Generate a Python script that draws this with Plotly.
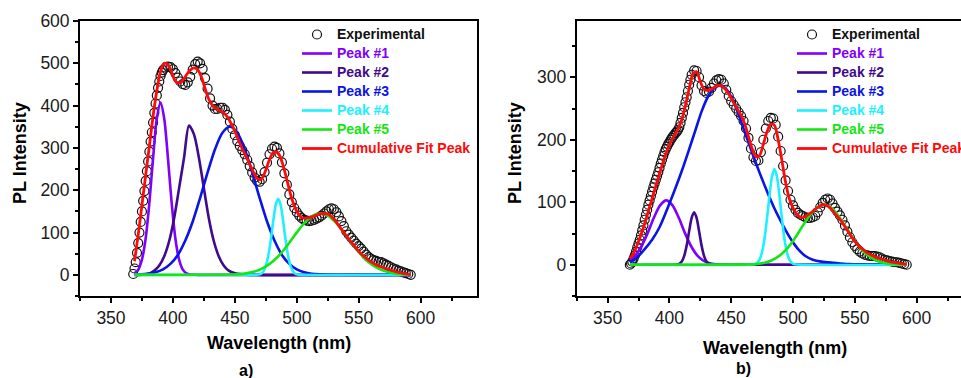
import plotly.graph_objects as go

# ---------------- panel a ----------------
# measured spectrum: 1 nm steps on the steep rising edge, 2 nm steps afterwards
exp_wl_a = list(range(368, 392)) + list(range(392, 593, 2))
exp_a = [2, 15, 30, 52, 75, 100, 125, 150, 175, 198,
         222, 245, 268, 291, 315, 337, 360, 383, 405, 424,
         442, 457, 470, 478,
         484, 490, 492, 491, 486, 477, 466, 457,
         451, 449, 455, 468, 485, 498, 504, 500, 487, 465,
         440, 417, 400, 392, 392, 395, 395, 390, 378, 362,
         345, 330, 316, 305, 295, 285, 272, 257, 242, 230,
         222, 220, 226, 243, 265, 285, 298, 303, 300, 287,
         266, 240, 213, 190, 172, 158, 148, 140, 134, 130,
         128, 127, 128, 130, 133, 136, 140, 145, 150, 155,
         157, 155, 148, 138, 127, 115, 103, 95, 88, 81,
         74, 68, 62, 55, 48, 42, 38, 35, 33, 31,
         30, 27, 24, 21, 18, 15, 13, 10, 8, 6,
         4, 2, 0]

fit_wl_a = list(range(369, 589, 3)) + [592]
fit_a = [32, 95, 165, 235, 305, 375, 435, 480, 500, 496,
         478, 458, 453, 460, 473, 484, 489, 485, 468, 440,
         415, 400, 393, 388, 383, 373, 358, 340, 318, 298,
         280, 262, 243, 228, 225, 240, 265, 285, 291, 283,
         258, 225, 190, 163, 145, 135, 134, 135, 138, 141,
         144, 145, 144, 138, 128, 116, 104, 92, 81, 70,
         59, 50, 42, 35, 29, 24, 20, 17, 14, 11,
         8, 6, 4, 2, 0]

p1_wl_a = [369, 372, 375, 378, 381, 384, 387, 390, 393, 396, 399, 402, 405, 408, 411, 414, 420, 592]
p1_a = [3.5, 12.3, 36, 86, 170, 276, 369, 407, 369, 276, 170, 86, 36, 12.3, 3.5, 0.8, 0, 0]

p2_wl_a = [369, 375, 381, 385, 389, 393, 397, 401, 405, 409, 413, 417, 421, 425, 429, 433, 437, 441, 445, 451, 459, 592]
p2_a = [0, 0.5, 3, 10, 22, 44, 80, 134, 205, 277, 353, 332, 277, 205, 134, 80, 44, 22, 10, 3, 0.5, 0]

p3_wl_a = [369, 374, 380, 386, 392, 398, 404, 410, 416, 422, 428, 434, 440, 446,
           452, 458, 464, 470, 476, 482, 488, 494, 500, 506, 512, 518, 530, 592]
p3_a = [0.5, 1, 2.5, 6, 13, 26, 47, 81, 126, 182, 242, 297, 336, 350,
        336, 297, 242, 182, 126, 81, 47, 26, 13, 6, 2.5, 1, 0.2, 0]

p4_wl_a = [369, 465, 469, 471, 473, 475, 477, 479, 481, 483, 485, 487, 489, 491, 493, 495, 497, 499, 501, 505, 592]
p4_a = [0, 0, 0.7, 2.5, 8, 20.5, 45, 82, 127, 165, 180, 165, 127, 82, 45, 20.5, 8, 2.5, 0.7, 0, 0]

p5_wl_a = [369, 441, 447, 453, 459, 465, 471, 477, 483, 489, 495, 501, 507, 513, 519,
           525, 531, 537, 543, 549, 555, 561, 567, 573, 579, 585, 592]
p5_a = [0, 0.25, 0.7, 1.6, 3.5, 7.1, 13.4, 23.5, 38, 57, 80, 104, 125, 140, 145,
        140, 125, 104, 80, 57, 38, 23.5, 13.4, 7.1, 3.5, 1.6, 0.6]

# ---------------- panel b ----------------
exp_wl_b = list(range(368, 418)) + list(range(418, 593, 2))
exp_b = [0, 2, 5, 10, 15, 21, 28, 34, 40, 47,
         55, 63, 72, 80, 88, 96, 103, 110, 117, 124,
         130, 136, 142, 148, 155, 162, 168, 174, 180, 185,
         189, 193, 196, 200, 203, 206, 208, 211, 213, 216,
         220, 227, 235, 243, 252, 260, 268, 278, 288, 296,
         304, 311, 310, 300, 287,
         278, 275, 277, 283, 290, 295, 297, 296, 290, 280,
         270, 262, 256, 250, 244, 238, 230, 218, 203, 186,
         172, 166, 167, 180, 200, 218, 230, 235, 234, 224,
         205, 182, 158, 135, 118, 104, 95, 88, 83, 80,
         78, 76, 75, 75, 76, 78, 84, 92, 99, 104,
         106, 104, 98, 91, 85, 79, 72, 63, 53, 44,
         36, 30, 25, 21, 18, 16, 15, 14, 14, 14,
         13, 12, 10, 8, 7, 6, 5, 4, 4, 3,
         2, 1, 0]

fit_wl_b = list(range(368, 591, 3)) + [592]
fit_b = [10, 18, 32, 48, 66, 86, 106, 126, 146, 165,
         182, 196, 207, 217, 232, 255, 282, 305, 309, 293,
         281, 279, 281, 285, 287, 285, 279, 270, 259, 249,
         239, 225, 205, 185, 173, 175, 193, 213, 225, 223,
         200, 167, 132, 106, 91, 81, 76, 76, 80, 84,
         89, 93, 96, 95, 91, 84, 77, 70, 61, 52,
         43, 35, 29, 24, 19, 16, 13, 11, 9, 7,
         5, 4, 3, 2, 1, 1]

p1_wl_b = [368, 372.5, 377.5, 382.5, 387.5, 392.5, 397.5, 402.5, 407.5, 412.5, 417.5, 422.5, 427.5, 432.5, 437.5, 447.5, 592]
p1_b = [7, 14.9, 30, 51, 75.6, 95, 103, 95, 75.6, 51, 30, 14.9, 6.4, 2.3, 0.7, 0, 0]

p2_wl_b = [368, 402, 406, 408, 410, 412, 414, 416, 418, 420, 422, 424, 426, 428, 430, 432, 434, 438, 592]
p2_b = [0, 0, 0.4, 1.6, 5.3, 14.3, 31, 54, 75, 84, 75, 54, 31, 14.3, 5.3, 1.6, 0.4, 0, 0]

p3_wl_b = [368, 374, 380, 386, 392, 398, 404, 410, 416, 421, 426, 431, 436, 441, 446, 451, 456, 461,
           465, 469, 473, 477, 481, 485, 489, 493, 497, 501, 505, 510, 516, 523, 533, 545, 560, 592]
p3_b = [4, 12, 25, 40, 60, 88, 118, 150, 185, 215, 245, 268, 282, 287, 281, 265, 240, 212,
        190, 168, 147, 127, 108, 90, 74, 59, 45, 33, 23, 14, 8, 5, 3, 1, 0.5, 0]

p4_wl_b = [368, 463, 469, 471, 473, 475, 477, 479, 481, 483, 485, 487, 489, 491, 493, 495, 497, 499, 501, 507, 592]
p4_b = [0, 0, 0.9, 3, 8.6, 20.7, 42.5, 74.5, 111, 141, 153, 141, 111, 74.5, 42.5, 20.7, 8.6, 3, 0.9, 0, 0]

p5_wl_b = [368, 459, 465, 471, 477, 483, 489, 495, 501, 507, 513, 519, 525,
           531, 537, 543, 549, 555, 561, 567, 573, 579, 585, 592]
p5_b = [0, 0.16, 0.5, 1.3, 3.2, 7.2, 14.3, 25.5, 41, 59.6, 77.7, 91, 96,
        91, 77.7, 59.6, 41, 25.5, 14.3, 7.2, 3.2, 1.3, 0.5, 0.13]

peak_names = ["Peak #1", "Peak #2", "Peak #3", "Peak #4", "Peak #5"]
peak_colors = ["#8000FF", "#3F0A8C", "#0A14E6", "#1EF0FF", "#14E614"]
fit_color = "#FF0A0A"

FONT = "Liberation Sans, Arial, Helvetica, sans-serif"
W, H = 961, 378

fig = go.Figure()


def legend_label(text, color):
    # entries are spaced by the (smaller) legend font, while the label itself is 14 px bold
    return f"<b><span style='color:{color};font-size:14px'>{text}</span></b>"


def add_panel(xa, ya, leg, exp_wl, exp, peaks, fit_wl, fit):
    fig.add_trace(go.Scatter(
        x=exp_wl, y=exp, mode="markers", xaxis=xa, yaxis=ya, legend=leg,
        name=legend_label("Experimental", "#111111"),
        marker=dict(symbol="circle-open", size=9, color="#111111", line=dict(width=1.2)),
    ))
    for (wl, vals), name, color in zip(peaks, peak_names, peak_colors):
        fig.add_trace(go.Scatter(
            x=wl, y=vals, mode="lines", xaxis=xa, yaxis=ya, legend=leg,
            name=legend_label(name, color),
            line=dict(color=color, width=2.6, shape="spline", smoothing=0.8),
        ))
    fig.add_trace(go.Scatter(
        x=fit_wl, y=fit, mode="lines", xaxis=xa, yaxis=ya, legend=leg,
        name=legend_label("Cumulative Fit Peak", fit_color),
        line=dict(color=fit_color, width=2.8, shape="spline", smoothing=0.8),
    ))


add_panel("x", "y", "legend", exp_wl_a, exp_a,
          [(p1_wl_a, p1_a), (p2_wl_a, p2_a), (p3_wl_a, p3_a), (p4_wl_a, p4_a), (p5_wl_a, p5_a)],
          fit_wl_a, fit_a)
add_panel("x2", "y2", "legend2", exp_wl_b, exp_b,
          [(p1_wl_b, p1_b), (p2_wl_b, p2_b), (p3_wl_b, p3_b), (p4_wl_b, p4_b), (p5_wl_b, p5_b)],
          fit_wl_b, fit_b)

tickfont = dict(family=FONT, size=17.5, color="#1a1a1a")
minor = dict(ticks="outside", ticklen=3, tickwidth=1.5, tickcolor="black", showgrid=False)


def axis(domain, rng, dtick, mdtick, anchor, mirror):
    return dict(domain=domain, range=rng, anchor=anchor, showline=True, linecolor="black",
                linewidth=1.8, mirror=mirror, ticks="outside", ticklen=5, tickwidth=1.5,
                tickcolor="black", dtick=dtick, tick0=0, minor=dict(dtick=mdtick, **minor),
                showgrid=False, zeroline=False, tickfont=tickfont)


y_dom = [1 - 296 / H, 1 - 21 / H]
legend_style = dict(xanchor="left", yanchor="top", bgcolor="rgba(0,0,0,0)",
                    font=dict(family=FONT, size=11.2), tracegroupgap=0)
fig.update_layout(
    width=W, height=H, autosize=False,
    margin=dict(l=0, r=0, t=0, b=0, autoexpand=False),
    paper_bgcolor="white", plot_bgcolor="white",
    showlegend=True,
    xaxis=axis([80 / W, 477 / W], [325, 645.5], 50, 25, "y", True),
    yaxis=axis(y_dom, [-50, 600], 100, 50, "x", True),
    xaxis2=axis([576.7 / W, 1.0], [325, 325 + (W - 576.7) / 1.236], 50, 25, "y2", True),
    yaxis2=axis(y_dom, [-50, 390], 100, 50, "x2", False),
    legend=dict(x=297 / W, y=1 - 20 / H, **legend_style),
    legend2=dict(x=792 / W, y=1 - 20 / H, **legend_style),
)

title_font = dict(family=FONT, size=18, color="black")
annotations = [
    dict(text="<b>Wavelength (nm)</b>", x=278.5 / W, y=1 - 343 / H, font=title_font),
    dict(text="<b>Wavelength (nm)</b>", x=775 / W, y=1 - 347.7 / H, font=title_font),
    dict(text="<b>PL Intensity</b>", x=20 / W, y=1 - 153 / H, font=title_font, textangle=-90),
    dict(text="<b>PL Intensity</b>", x=515 / W, y=1 - 153 / H, font=title_font, textangle=-90),
    dict(text="<b>a)</b>", x=245.7 / W, y=1 - 370 / H, font=dict(family=FONT, size=16, color="black")),
    dict(text="<b>b)</b>", x=743 / W, y=1 - 368 / H, font=dict(family=FONT, size=16, color="black")),
]
for a in annotations:
    fig.add_annotation(xref="paper", yref="paper", showarrow=False,
                       xanchor="center", yanchor="middle", **a)

fig.write_html("out.html")
